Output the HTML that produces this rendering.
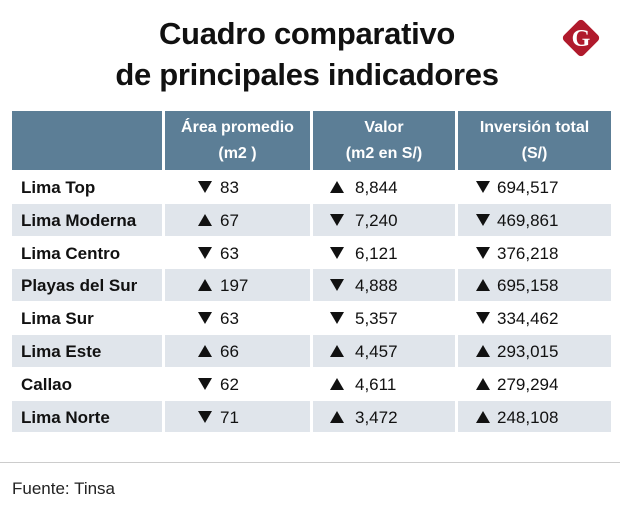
<!DOCTYPE html>
<html><head><meta charset="utf-8"><style>
body{margin:0;width:620px;height:518px;background:#fff;font-family:"Liberation Sans Narrow","Liberation Sans",sans-serif;position:relative;overflow:hidden}
.t{position:absolute;left:0;width:614px;text-align:center;font-weight:bold;font-size:31px;color:#111;letter-spacing:-0.3px}
.c{position:absolute;box-sizing:border-box}
.h{background:#5c7e96;color:#fff;font-weight:bold;font-size:16px;text-align:center;line-height:26px;padding-top:4px}
.lab{font-weight:bold;font-size:17px;color:#111;padding-left:9px;line-height:33px}
.v{font-size:17px;color:#111;line-height:33px}
.tri{position:absolute;top:10px}
</style></head><body>
<div class="t" style="top:16px">Cuadro comparativo</div>
<div class="t" style="top:57px">de principales indicadores</div>
<svg style="position:absolute;left:558px;top:15px" width="46" height="46"><rect x="9" y="9" width="28" height="28" rx="4" fill="#b01a2c" transform="rotate(45 23 23)"/><text x="23" y="31" text-anchor="middle" font-family="Liberation Serif" font-weight="bold" font-size="24" fill="#fff">G</text></svg>
<div id="tbl"></div>
<div style="position:absolute;left:0;top:462px;width:620px;height:1px;background:#ccc"></div>
<div style="position:absolute;left:12px;top:479px;font-size:17px;color:#222;font-family:'Liberation Sans',sans-serif">Fuente: Tinsa</div>
<script>
const regions=["Lima Top","Lima Moderna","Lima Centro","Playas del Sur","Lima Sur","Lima Este","Callao","Lima Norte"];
const area=["83","67","63","197","63","66","62","71"];
const areaDir=["d","u","d","u","d","u","d","d"];
const valor=["8,844","7,240","6,121","4,888","5,357","4,457","4,611","3,472"];
const valorDir=["u","d","d","d","d","u","u","u"];
const inv=["694,517","469,861","376,218","695,158","334,462","293,015","279,294","248,108"];
const invDir=["d","d","d","u","d","u","u","u"];
const headers=["","Área promedio<br>(m2 )","Valor<br>(m2 en S/)","Inversión total<br>(S/)"];
const cols=[[12,150],[165,145],[313,142],[458,153]];
const triX=[0,33,17,18];
const numX=[0,55,42,39];
const tbl=document.getElementById('tbl');
function cell(x,y,w,h,cls,html,bg){const d=document.createElement('div');d.className='c '+cls;d.style.cssText=`left:${x}px;top:${y}px;width:${w}px;height:${h}px;`+(bg?`background:${bg};`:'');d.innerHTML=html;tbl.appendChild(d);return d;}
headers.forEach((t,i)=>{const d=cell(cols[i][0],111,cols[i][1],59,'h',t);

});
const up='<polygon points="7,0 14,12 0,12" fill="#111"/>';
const dn='<polygon points="0,0 14,0 7,12" fill="#111"/>';
const rh=32.8;
regions.forEach((r,j)=>{
  const y=171+j*rh, bg=j%2?'#e0e5eb':'#fff';
  const a=cell(cols[0][0],y,cols[0][1],rh-1,'lab',r,bg);
  
  
  [[area,areaDir],[valor,valorDir],[inv,invDir]].forEach(([vals,dirs],k)=>{
    const c=cols[k+1];
    const tri=dirs[j]==='u'?up:dn;
    const d=cell(c[0],y,c[1],rh-1,'v',`<svg class="tri" style="left:${triX[k+1]}px" width="14" height="12">${tri}</svg><span style="position:absolute;left:${numX[k+1]}px">${vals[j]}</span>`,bg);
    
    
  });
});
</script>
</body></html>
